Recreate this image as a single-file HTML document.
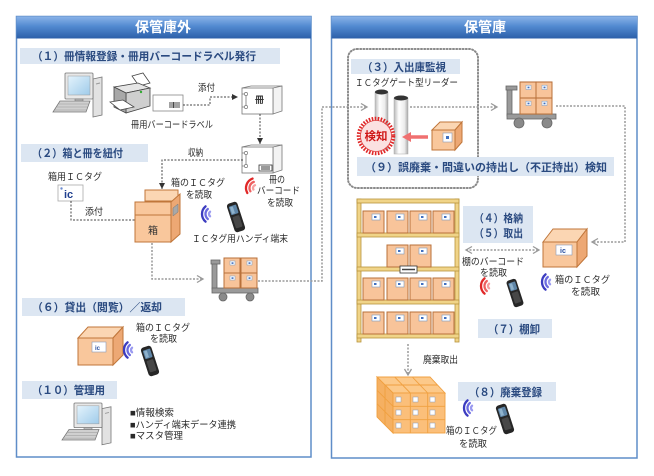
<!DOCTYPE html>
<html><head><meta charset="utf-8">
<style>
html,body{margin:0;padding:0;background:#fff;}
svg{display:block;}
text{font-family:"Liberation Sans","Noto Sans CJK JP",sans-serif;}
.lb{font-weight:bold;fill:#2a4a80;font-size:11px;}
.s{font-size:9.5px;fill:#2a2a2a;}
.h{font-weight:bold;fill:#fff;font-size:14px;}
.gd{fill:none;stroke:#9a9a9a;stroke-width:1.5;stroke-dasharray:2 1.5;}
.dk{fill:none;stroke:#444;stroke-width:1;stroke-dasharray:2 1.5;}
.bf{fill:#f9c79c;stroke:#c0763a;stroke-width:1;}
.bt{fill:#fbd6b3;stroke:#c0763a;stroke-width:1;}
.bs{fill:#eda874;stroke:#c0763a;stroke-width:1;}
</style></head><body>
<svg width="654" height="476" viewBox="0 0 654 476" xmlns="http://www.w3.org/2000/svg">
<defs>
<linearGradient id="hg" x1="0" y1="0" x2="0" y2="1">
<stop offset="0" stop-color="#8ab3e8"/><stop offset="0.45" stop-color="#5189d0"/><stop offset="1" stop-color="#2c5fa8"/>
</linearGradient>
<linearGradient id="pg" x1="0" y1="0" x2="1" y2="0">
<stop offset="0" stop-color="#b8b8b8"/><stop offset="0.35" stop-color="#ffffff"/><stop offset="0.75" stop-color="#ececec"/><stop offset="1" stop-color="#a8a8a8"/>
</linearGradient>
<linearGradient id="sg" x1="0" y1="0" x2="1" y2="1">
<stop offset="0" stop-color="#e4f3fc"/><stop offset="1" stop-color="#9fcbea"/>
</linearGradient>
<marker id="mk" markerWidth="8" markerHeight="8" refX="6" refY="4" orient="auto" markerUnits="userSpaceOnUse"><path d="M0,1 L6,4 L0,7 z" fill="#333"/></marker>
<marker id="mg" markerWidth="10" markerHeight="10" refX="7" refY="5" orient="auto-start-reverse" markerUnits="userSpaceOnUse"><path d="M1,1.5 L7,5 L1,8.5" fill="none" stroke="#999" stroke-width="1.3"/></marker>
<g id="sb"><rect width="21" height="22" fill="#f8c49a" stroke="#b8703a" stroke-width="1"/><rect x="9" y="3" width="8" height="6" fill="#fff" stroke="#7a9ac0" stroke-width="0.6"/><rect x="11" y="5" width="2.5" height="2" fill="#4070c0"/></g>
<g id="cb"><rect width="16" height="15" fill="#f8c49a" stroke="#b8703a" stroke-width="1"/><rect x="6" y="3" width="5" height="4" fill="#fff" stroke="#7a9ac0" stroke-width="0.5"/><rect x="7.5" y="4.3" width="2" height="1.6" fill="#4070c0"/></g>
<g id="term">
<rect x="-5.5" y="-15" width="11" height="30" rx="3" fill="#262626"/>
<rect x="-3.8" y="-12" width="7.6" height="9" rx="1" fill="#5f86a8"/>
<rect x="-2.8" y="-11" width="3" height="7" fill="#8fb2cc"/>
<rect x="-3.5" y="-1" width="7" height="12" rx="1" fill="#474747"/>
</g>
<g id="wb" fill="none" stroke-width="2.3" stroke-linecap="round">
<path d="M-1.93,2.3 A3,3 0 0 1 -1.93,-2.3" stroke="#9a9af0"/>
<path d="M-4.18,4.98 A6.5,6.5 0 0 1 -4.18,-4.98" stroke="#6b6be0"/>
<path d="M-6.43,7.66 A10,10 0 0 1 -6.43,-7.66" stroke="#3c3cc0"/>
</g>
<g id="wr" fill="none" stroke-width="2.3" stroke-linecap="round">
<path d="M-1.93,2.3 A3,3 0 0 1 -1.93,-2.3" stroke="#f5a0a0"/>
<path d="M-4.18,4.98 A6.5,6.5 0 0 1 -4.18,-4.98" stroke="#ee6060"/>
<path d="M-6.43,7.66 A10,10 0 0 1 -6.43,-7.66" stroke="#e02828"/>
</g>
<g id="pc">
<polygon points="40,7 49,5 49,43 40,45" fill="#e2e2e2" stroke="#777" stroke-width="0.8"/>
<line x1="43" y1="12" x2="47" y2="11" stroke="#999"/>
<rect x="12" y="1" width="28" height="26" rx="1" fill="#e8e8e8" stroke="#777" stroke-width="0.8"/>
<rect x="15" y="4" width="22" height="19" fill="url(#sg)" stroke="#999" stroke-width="0.5"/>
<rect x="22" y="27" width="8" height="3" fill="#bbb" stroke="#777" stroke-width="0.6"/>
<polygon points="7,29 37,29 33,40 0,40" fill="#d0d0d0" stroke="#777" stroke-width="0.8"/>
<path d="M6,32 L35,32 M4,35 L34,35 M2,38 L33,38" stroke="#999" stroke-width="0.6"/>
</g>
<g id="book">
<polygon points="31,2 40,0 40,25 31,28" fill="#f3f3f3" stroke="#777" stroke-width="0.8"/>
<rect x="0" y="2" width="31" height="26" fill="#fff" stroke="#777" stroke-width="0.8"/>
<line x1="0" y1="2" x2="9" y2="0" stroke="#777" stroke-width="0.8"/>
<line x1="9" y1="0" x2="40" y2="0" stroke="#777" stroke-width="0.8"/>
<path d="M0,8 L4,8 L4,21 L0,21" fill="none" stroke="#777" stroke-width="0.8"/>
<circle cx="4" cy="8" r="1.6" fill="#fff" stroke="#777" stroke-width="0.7"/>
<circle cx="4" cy="21" r="1.6" fill="#fff" stroke="#777" stroke-width="0.7"/>
</g>
</defs>

<!-- Panels -->
<rect x="16.5" y="16.5" width="294.5" height="440.5" fill="#fff" stroke="#5f8dc8" stroke-width="1.5"/>
<rect x="16.5" y="16.5" width="294.5" height="22" fill="url(#hg)"/>
<text x="163" y="32" class="h" text-anchor="middle">保管庫外</text>
<rect x="331.5" y="16.5" width="305.5" height="441.5" fill="#fff" stroke="#5f8dc8" stroke-width="1.5"/>
<rect x="331.5" y="16.5" width="305.5" height="22" fill="url(#hg)"/>
<text x="485" y="32" class="h" text-anchor="middle">保管庫</text>

<!-- (1) -->
<rect x="20" y="48" width="260" height="16" fill="#dce6f2"/>
<text x="32" y="60" class="lb" textLength="224" lengthAdjust="spacingAndGlyphs">（１）冊情報登録・冊用バーコードラベル発行</text>
<use href="#pc" x="53" y="72"/>
<!-- printer -->
<g transform="translate(110,73)" stroke="#444" stroke-width="0.8">
<polygon points="22,3 33,0 40,10 29,13" fill="#fff"/>
<polygon points="4,14 28,10 40,15 16,20" fill="#e6e6e6"/>
<polygon points="16,20 40,15 40,33 16,40" fill="#cfcfcf"/>
<polygon points="4,14 16,20 16,40 4,34" fill="#a8a8a8"/>
<polygon points="0,29 13,27 24,34 10,37" fill="#fff"/>
<circle cx="31" cy="19" r="1.2" fill="#3a3" stroke="none"/>
</g>
<rect x="153" y="95" width="30" height="16" fill="#fff" stroke="#888" stroke-width="0.8"/>
<path d="M170,102 v6 M172,102 v6 M173.5,102 v6 M175,102 v6 M177,102 v6 M179,102 v6" stroke="#333" stroke-width="0.9"/>
<text x="198" y="91" class="s" textLength="17" lengthAdjust="spacingAndGlyphs">添付</text>
<text x="131" y="128" class="s" textLength="82" lengthAdjust="spacingAndGlyphs">冊用バーコードラベル</text>
<polyline points="183,105 210,105 210,97 238,97" class="dk" marker-end="url(#mk)"/>
<use href="#book" x="242" y="86"/>
<text x="255" y="103" style="font-size:9px;font-weight:bold;fill:#333">冊</text>
<line x1="260" y1="114" x2="260" y2="144" class="dk" marker-end="url(#mk)"/>
<text x="188" y="156" class="s" textLength="15" lengthAdjust="spacingAndGlyphs">収納</text>
<use href="#book" x="242" y="145"/>
<rect x="259" y="165" width="13" height="6" fill="#fff" stroke="#333" stroke-width="0.8"/>
<path d="M261,167 h9 M261,169 h9" stroke="#333" stroke-width="0.9"/>

<!-- (2) -->
<rect x="21" y="144" width="127" height="18" fill="#dce6f2"/>
<text x="32" y="157" class="lb" textLength="91" lengthAdjust="spacingAndGlyphs">（２）箱と冊を紐付</text>
<text x="48" y="180" class="s" textLength="54" lengthAdjust="spacingAndGlyphs">箱用ＩＣタグ</text>
<rect x="58" y="185" width="25" height="16" fill="#fff" stroke="#aaa" stroke-width="0.8"/>
<circle cx="61.5" cy="188.5" r="1.2" fill="#6a8ad0"/>
<text x="64" y="198" style="font-size:11px;font-weight:bold;fill:#1f3f8f">ic</text>
<polyline points="71,201 71,220 172,220" class="dk" marker-end="url(#mk)"/>
<text x="85" y="215" class="s" textLength="18" lengthAdjust="spacingAndGlyphs">添付</text>
<polyline points="243,160 162,160 162,189" class="dk" marker-end="url(#mk)"/>
<!-- open box -->
<rect x="145" y="190" width="33" height="11" class="bt"/>
<polygon points="171,202 180,194 180,234 171,242" class="bs"/>
<rect x="135" y="202" width="36" height="40" class="bf"/>
<line x1="135" y1="215" x2="171" y2="215" stroke="#c0763a" stroke-width="1"/>
<polygon points="173,208 178,204 178,212 173,216" fill="#a8a8a8" stroke="#777" stroke-width="0.5"/>
<text x="148" y="234" style="font-size:10px;fill:#333">箱</text>
<text x="171" y="186" class="s" textLength="54" lengthAdjust="spacingAndGlyphs">箱のＩＣタグ</text>
<text x="186" y="198" class="s" textLength="26" lengthAdjust="spacingAndGlyphs">を読取</text>
<use href="#wb" transform="translate(212,214)"/>
<use href="#term" transform="translate(236,217) rotate(-18)"/>
<text x="192" y="242" class="s" textLength="96" lengthAdjust="spacingAndGlyphs">ＩＣタグ用ハンディ端末</text>
<use href="#wr" transform="translate(256,188) rotate(20)"/>
<text x="269" y="183" class="s" textLength="16" lengthAdjust="spacingAndGlyphs">冊の</text>
<text x="257" y="194" class="s" textLength="43" lengthAdjust="spacingAndGlyphs">バーコード</text>
<text x="267" y="206" class="s" textLength="26" lengthAdjust="spacingAndGlyphs">を読取</text>
<!-- cart left -->
<polyline points="152,243 152,279 203,279" class="gd" marker-end="url(#mg)"/>
<g stroke="#666" stroke-width="0.8">
<rect x="212" y="262" width="5" height="27" fill="#9a9a9a"/>
<rect x="211" y="260" width="9" height="4" fill="#9a9a9a"/>
<rect x="212" y="288" width="46" height="5" fill="#9a9a9a"/>
<circle cx="223" cy="297" r="4" fill="#8a8a8a"/>
<circle cx="250" cy="297" r="4" fill="#8a8a8a"/>
</g>
<use href="#cb" x="224" y="258"/><use href="#cb" x="241" y="258"/>
<use href="#cb" x="224" y="273"/><use href="#cb" x="241" y="273"/>
<polyline points="258,281 322,281 322,107 367,107" class="gd" marker-end="url(#mg)"/>

<!-- (6) -->
<rect x="22" y="298" width="163" height="18" fill="#dce6f2"/>
<text x="32" y="311" class="lb" textLength="130" lengthAdjust="spacingAndGlyphs">（６）貸出（閲覧）／返却</text>
<polygon points="78,338 88,327 123,327 113,338" class="bt"/>
<polygon points="113,338 123,327 123,355 113,365" class="bs"/>
<rect x="78" y="338" width="35" height="27" class="bf"/>
<rect x="92" y="342" width="14" height="10" fill="#fff" stroke="#8a9ab8" stroke-width="0.6"/>
<text x="95" y="350" style="font-size:6px;font-weight:bold;fill:#2a50a0">ic</text>
<use href="#wb" transform="translate(134,350)"/>
<use href="#term" transform="translate(150,361) rotate(-18)"/>
<text x="136" y="331" class="s" textLength="54" lengthAdjust="spacingAndGlyphs">箱のＩＣタグ</text>
<text x="150" y="342" class="s" textLength="27" lengthAdjust="spacingAndGlyphs">を読取</text>

<!-- (10) -->
<rect x="22" y="381" width="95" height="18" fill="#dce6f2"/>
<text x="32" y="394" class="lb" textLength="73" lengthAdjust="spacingAndGlyphs">（１０）管理用</text>
<use href="#pc" transform="translate(62,402) scale(1,0.95)"/>
<text x="130" y="416" class="s" textLength="44" lengthAdjust="spacingAndGlyphs">■情報検索</text>
<text x="130" y="428" class="s" textLength="106" lengthAdjust="spacingAndGlyphs">■ハンディ端末データ連携</text>
<text x="130" y="439" class="s" textLength="53" lengthAdjust="spacingAndGlyphs">■マスタ管理</text>

<!-- Right panel: (3)/(9) -->
<rect x="348" y="49" width="130" height="139" rx="9" fill="none" stroke="#8a8a8a" stroke-width="2" stroke-dasharray="1 2.2" stroke-linecap="round"/>
<rect x="351" y="59" width="109" height="15" fill="#dce6f2"/>
<text x="362" y="71" class="lb" textLength="84" lengthAdjust="spacingAndGlyphs">（３）入出庫監視</text>
<text x="355" y="86" class="s" textLength="103" lengthAdjust="spacingAndGlyphs">ＩＣタグゲート型リーダー</text>
<rect x="375" y="92" width="13" height="58" fill="url(#pg)" stroke="#aaa" stroke-width="0.5"/>
<ellipse cx="381.5" cy="92" rx="6.5" ry="2.5" fill="#333"/>
<rect x="394" y="98" width="14" height="56" fill="url(#pg)" stroke="#aaa" stroke-width="0.5"/>
<ellipse cx="401" cy="98" rx="7" ry="2.5" fill="#333"/>
<line x1="410" y1="107" x2="497" y2="107" class="gd" marker-end="url(#mg)"/>
<circle cx="376" cy="136" r="17.5" fill="none" stroke="#e02828" stroke-width="3.5" stroke-dasharray="1.6 1.4"/>
<circle cx="376" cy="136" r="15.5" fill="#fbe1e1" stroke="#e04040" stroke-width="0.8"/>
<text x="376" y="140" text-anchor="middle" style="font-size:11.5px;font-weight:bold;fill:#d01818">検知</text>
<line x1="428" y1="137" x2="410" y2="137" stroke="#f07070" stroke-width="3.5"/>
<polygon points="402,137 411,132 411,142" fill="#f07070"/>
<polygon points="432,130 440,122 462,122 455,130" class="bt"/>
<polygon points="455,130 462,122 462,142 455,150" class="bs"/>
<rect x="432" y="130" width="23" height="20" class="bf"/>
<rect x="443" y="133" width="9" height="9" fill="#fff" stroke="#8a9ab8" stroke-width="0.6"/>
<rect x="446" y="136" width="3" height="3" fill="#4070c0"/>
<rect x="357" y="157" width="257" height="19" fill="#dce6f2"/>
<text x="365" y="171" class="lb" textLength="242" lengthAdjust="spacingAndGlyphs">（９）誤廃棄・間違いの持出し（不正持出）検知</text>

<!-- cart right -->
<g stroke="#666" stroke-width="0.8">
<rect x="507" y="88" width="5" height="28" fill="#9a9a9a"/>
<rect x="506" y="86" width="11" height="4" fill="#9a9a9a"/>
<rect x="507" y="114" width="49" height="5" fill="#9a9a9a"/>
<circle cx="519" cy="123" r="5" fill="#8a8a8a"/>
<circle cx="547" cy="123" r="5" fill="#8a8a8a"/>
</g>
<use href="#cb" transform="translate(520,82) scale(1,1.07)"/><use href="#cb" transform="translate(536,82) scale(1,1.07)"/>
<use href="#cb" transform="translate(520,98) scale(1,1.07)"/><use href="#cb" transform="translate(536,98) scale(1,1.07)"/>
<polyline points="556,106 625,106 625,242 592,242" class="gd" marker-end="url(#mg)"/>

<!-- box 4/5 -->
<polygon points="543,242 553,229 587,229 577,242" class="bt"/>
<polygon points="577,242 587,229 587,256 577,267" class="bs"/>
<rect x="543" y="242" width="34" height="25" class="bf"/>
<rect x="556" y="245" width="16" height="10" fill="#fff" stroke="#8a9ab8" stroke-width="0.6"/>
<text x="560" y="253" style="font-size:7px;font-weight:bold;fill:#2a50a0">ic</text>

<rect x="463" y="206" width="70" height="37" fill="#dce6f2"/>
<text x="474" y="222" class="lb" textLength="49" lengthAdjust="spacingAndGlyphs">（４）格納</text>
<text x="474" y="237" class="lb" textLength="49" lengthAdjust="spacingAndGlyphs">（５）取出</text>
<line x1="466" y1="250" x2="539" y2="250" class="gd" marker-start="url(#mg)" marker-end="url(#mg)"/>
<text x="462" y="265" class="s" textLength="62" lengthAdjust="spacingAndGlyphs">棚のバーコード</text>
<text x="480" y="276" class="s" textLength="27" lengthAdjust="spacingAndGlyphs">を読取</text>
<use href="#wr" transform="translate(491,286)"/>
<use href="#term" transform="translate(515,293) rotate(-18) scale(0.93)"/>
<use href="#wb" transform="translate(552,282)"/>
<text x="555" y="283" class="s" textLength="55" lengthAdjust="spacingAndGlyphs">箱のＩＣタグ</text>
<text x="571" y="295" class="s" textLength="29" lengthAdjust="spacingAndGlyphs">を読取</text>
<rect x="478" y="319" width="74" height="19" fill="#dce6f2"/>
<text x="488" y="333" class="lb" textLength="52" lengthAdjust="spacingAndGlyphs">（７）棚卸</text>

<!-- shelf -->
<g fill="#f0d488" stroke="#b8943c" stroke-width="0.8">
<rect x="357" y="199" width="4" height="143"/>
<rect x="455" y="199" width="4" height="143"/>
<rect x="357" y="199" width="102" height="4"/>
<rect x="357" y="233" width="102" height="4"/>
<rect x="357" y="267" width="102" height="4"/>
<rect x="357" y="300" width="102" height="4"/>
<rect x="357" y="334" width="102" height="4"/>
</g>
<use href="#sb" x="363" y="211"/><use href="#sb" x="387" y="211"/><use href="#sb" x="410" y="211"/><use href="#sb" x="433" y="211"/>
<use href="#sb" x="387" y="245"/><use href="#sb" x="410" y="245"/>
<use href="#sb" x="363" y="278"/><use href="#sb" x="387" y="278"/><use href="#sb" x="410" y="278"/><use href="#sb" x="433" y="278"/>
<use href="#sb" x="363" y="312"/><use href="#sb" x="387" y="312"/><use href="#sb" x="410" y="312"/><use href="#sb" x="433" y="312"/>
<rect x="400" y="266" width="17" height="7" fill="#fff" stroke="#333" stroke-width="0.8"/>
<path d="M402,269.5 h13" stroke="#444" stroke-width="1.5"/>

<line x1="408" y1="344" x2="408" y2="375" class="gd" marker-end="url(#mg)"/>
<text x="423" y="363" class="s" textLength="35" lengthAdjust="spacingAndGlyphs">廃棄取出</text>

<!-- stack (8) -->
<g stroke="#f0a040" stroke-width="0.9">
<polygon points="377,377 430,377 445,393 393,393" fill="#fcc98a"/>
<path d="M394.7,377 L410.3,393 M412.3,377 L427.7,393 M385,385 L437.5,385" fill="none"/>
<polygon points="377,377 393,393 393,433 377,417" fill="#f5b062"/>
<path d="M377,390.3 L393,406.3 M377,403.7 L393,419.7 M385,385 L385,425" fill="none"/>
<rect x="393" y="393" width="52" height="40" fill="#fbbf7a"/>
<path d="M410.3,393 V433 M427.7,393 V433 M393,406.3 H445 M393,419.7 H445" fill="none"/>
</g>
<g fill="#fff" stroke="#8a9ab8" stroke-width="0.5">
<rect x="396" y="397" width="5" height="5"/><rect x="413" y="397" width="5" height="5"/><rect x="430" y="397" width="5" height="5"/>
<rect x="396" y="410" width="5" height="5"/><rect x="413" y="410" width="5" height="5"/><rect x="430" y="410" width="5" height="5"/>
<rect x="396" y="423" width="5" height="5"/><rect x="413" y="423" width="5" height="5"/><rect x="430" y="423" width="5" height="5"/>
</g>
<rect x="458" y="382" width="98" height="19" fill="#dce6f2"/>
<text x="469" y="396" class="lb" textLength="73" lengthAdjust="spacingAndGlyphs">（８）廃棄登録</text>
<use href="#wb" transform="translate(474,408)"/>
<use href="#term" transform="translate(505,419) rotate(-18)"/>
<text x="446" y="434" class="s" textLength="51" lengthAdjust="spacingAndGlyphs">箱のＩＣタグ</text>
<text x="459" y="447" class="s" textLength="28" lengthAdjust="spacingAndGlyphs">を読取</text>
</svg>
</body></html>
